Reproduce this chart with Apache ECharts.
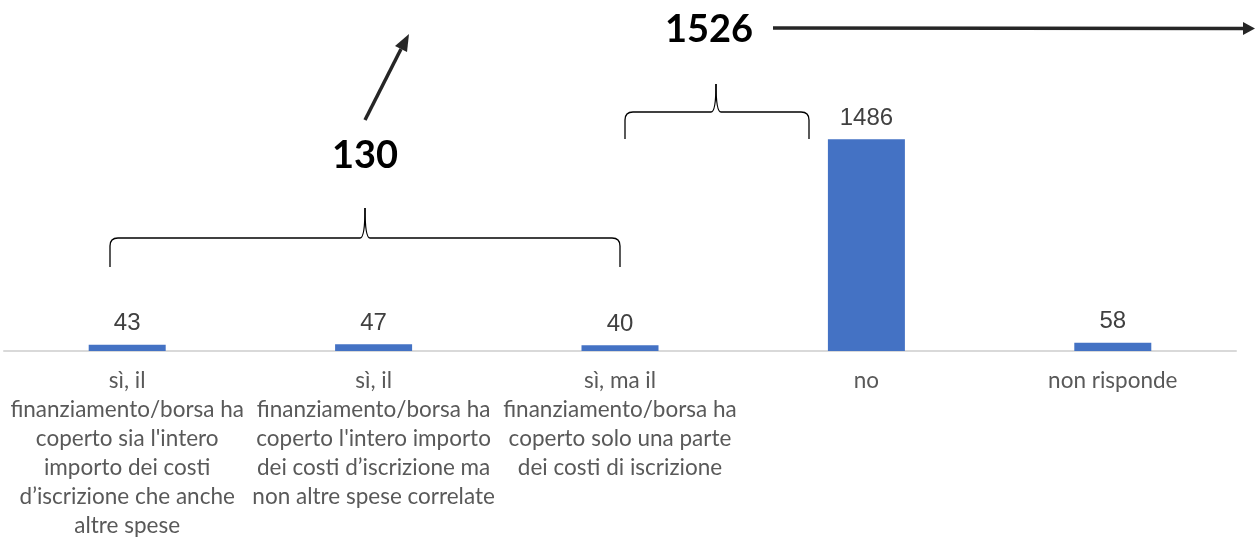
<!DOCTYPE html>
<html>
<head>
<meta charset="utf-8">
<script src="https://cdn.jsdelivr.net/npm/echarts@6/dist/echarts.min.js"></script>
<style>
  html, body { margin: 0; padding: 0; background: #fff; }
  #chart { width: 1255px; height: 541px; }
</style>
</head>
<body>
<div id="chart"></div>
<script>
// categorie (a capo come nel grafico originale)
var categories = [
    "sì, il\nfinanziamento/borsa ha\ncoperto sia l'intero\nimporto dei costi\nd’iscrizione che anche\naltre spese",
    "sì, il\nfinanziamento/borsa ha\ncoperto l'intero importo\ndei costi d’iscrizione ma\nnon altre spese correlate",
    "sì, ma il\nfinanziamento/borsa ha\ncoperto solo una parte\ndei costi di iscrizione",
    "no",
    "non risponde"
];
var values = [43, 47, 40, 1486, 58];
// totali scritti sopra le parentesi
var totals = ['130', '1526'];

var myChart = echarts.init(document.getElementById('chart'));

// parentesi graffa orizzontale fatta di linee e curve
function brace(l, r, h, b, p, t) {
    var st = { stroke: '#000', lineWidth: 1.3, fill: null };
    function ln(x1, y1, x2, y2) {
        return { type: 'line', shape: { x1: x1, y1: y1, x2: x2, y2: y2 }, style: st };
    }
    function cv(x1, y1, cx, cy, x2, y2) {
        return { type: 'bezierCurve', shape: { x1: x1, y1: y1, cpx1: cx, cpy1: cy, x2: x2, y2: y2 }, style: st };
    }
    return {
        type: 'group',
        children: [
            ln(l, b, l, h + 8),
            cv(l, h + 8, l, h, l + 8, h),
            ln(l + 8, h, p - 5, h),
            cv(p - 5, h, p, h, p, t),
            cv(p, t, p, h, p + 5, h),
            ln(p + 5, h, r - 8, h),
            cv(r - 8, h, r, h, r, h + 8),
            ln(r, h + 8, r, b)
        ]
    };
}

var option = {
    animation: false,
    grid: {
        left: 4,
        right: 19,
        top: 66,
        bottom: 190,
        containLabel: false
    },
    xAxis: {
        type: 'category',
        data: categories,
        axisLine: { lineStyle: { color: '#d9d9d9', width: 2 } },
        axisTick: { show: false },
        axisLabel: {
            interval: 0,
            margin: 15,
            fontFamily: 'Lato',
            fontSize: 22.5,
            lineHeight: 29,
            color: '#595959',
            align: 'center'
        }
    },
    yAxis: {
        type: 'value',
        min: 0,
        max: 2000,
        show: false,
        splitLine: { show: false }
    },
    series: [{
        type: 'bar',
        data: values,
        barWidth: 77,
        itemStyle: { color: '#4472C4' },
        label: {
            show: true,
            position: 'top',
            distance: 9,
            fontFamily: 'Liberation Sans',
            fontSize: 24,
            color: '#404040'
        }
    }],
    graphic: [
        brace(110, 620, 238, 267, 365, 208),
        brace(625, 809, 112, 139, 716, 84),
        {
            type: 'text',
            x: 332,
            y: 137,
            style: { text: totals[0], font: 'bold 38px Lato', fill: '#000' }
        },
        {
            type: 'text',
            x: 665,
            y: 11,
            style: { text: totals[1], font: 'bold 38px Lato', fill: '#000' }
        },
        {
            type: 'line',
            shape: { x1: 365, y1: 120, x2: 401, y2: 49 },
            style: { stroke: '#262626', lineWidth: 3.5 }
        },
        {
            type: 'polygon',
            shape: { points: [[409, 34], [395, 46], [407, 52]] },
            style: { fill: '#262626' }
        },
        {
            type: 'line',
            shape: { x1: 773, y1: 28, x2: 1245, y2: 28.5 },
            style: { stroke: '#262626', lineWidth: 3.5 }
        },
        {
            type: 'polygon',
            shape: { points: [[1255, 28.5], [1243, 22], [1243, 35]] },
            style: { fill: '#262626' }
        }
    ]
};

myChart.setOption(option);
window.addEventListener('resize', function () {
    myChart.resize();
});
</script>
</body>
</html>
